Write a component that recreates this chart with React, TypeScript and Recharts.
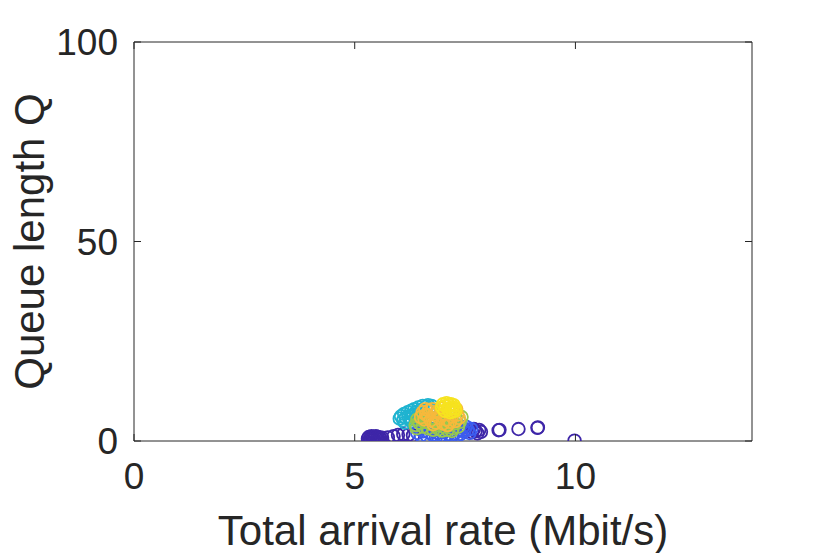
import { ScatterChart, Scatter, XAxis, YAxis, ReferenceLine } from "recharts";

const xTicks = [0, 5, 10];
const yTicks = [0, 50, 100];

// [rate, queue] pairs, grouped by marker colour
const darkBlue = [
  [5.3, 0.6], [5.32, 1.0], [5.34, 0.4], [5.36, 0.8], [5.38, 1.2], [5.4, 0.6],
  [5.42, 1.0], [5.44, 0.5], [5.46, 0.9], [5.48, 1.2], [5.5, 0.7], [5.52, 1.0],
  [5.54, 0.5], [5.56, 0.9], [5.58, 0.6], [5.62, 0.8],
  [5.75, 0.9], [5.88, 1.2], [5.98, 1.5], [6.1, 1.7], [6.22, 1.6], [6.32, 1.4],
  [7.66, 2.2], [7.7, 3.0], [7.74, 2.5], [7.78, 1.9], [7.82, 2.8], [7.86, 2.3],
  [8.26, 2.7], [8.28, 2.8], [8.71, 3.0], [9.14, 3.3], [9.15, 3.4], [9.98, 0.1],
];
const cyan = [
  [6.02, 5.6], [6.05, 6.2], [6.1, 5.2], [6.12, 6.8], [6.16, 5.8], [6.2, 7.2],
  [6.22, 6.2], [6.26, 5.4], [6.28, 7.6], [6.32, 6.6], [6.35, 8.0], [6.38, 5.8],
  [6.4, 7.2], [6.44, 8.4], [6.46, 6.4], [6.5, 7.8], [6.54, 8.8], [6.58, 7.0],
  [6.62, 8.6], [6.66, 9.0], [6.7, 8.2], [6.74, 8.8], [6.3, 4.8], [6.14, 4.6],
  [6.48, 5.0],
];
const blue = [
  [6.42, 2.0], [6.46, 3.0], [6.5, 1.4], [6.55, 2.4], [6.6, 3.4], [6.64, 1.2],
  [6.68, 2.2], [6.72, 3.0], [6.76, 1.6], [6.8, 2.6], [6.84, 1.0], [6.88, 2.0],
  [6.92, 3.2], [6.96, 1.4], [7.0, 2.4], [7.04, 1.0], [7.08, 3.0], [7.12, 1.8],
  [7.16, 2.6], [7.2, 1.2], [7.24, 3.2], [7.28, 2.0], [7.32, 1.4], [7.36, 2.8],
  [7.4, 1.8], [7.44, 3.4], [7.48, 2.4], [7.52, 3.6], [7.56, 2.8], [7.6, 2.0],
  [7.64, 3.0], [6.9, 0.8], [7.3, 0.9],
];
const green = [
  [6.38, 4.0], [6.4, 3.2], [6.42, 5.4], [6.46, 4.6], [6.5, 5.6], [6.54, 3.6],
  [6.58, 4.8], [6.62, 6.0], [6.66, 3.2], [6.7, 4.4], [6.74, 5.4], [6.78, 2.8],
  [6.82, 3.8], [6.86, 5.0], [6.9, 3.0], [6.94, 4.2], [6.98, 2.6], [7.02, 3.6],
  [7.06, 4.8], [7.1, 2.8], [7.14, 4.0], [7.18, 5.2], [7.22, 3.2], [7.26, 4.4],
  [7.3, 5.6], [7.34, 3.6], [7.38, 4.8], [7.42, 6.0], [7.2, 2.5],
];
const orange = [
  [6.5, 6.0], [6.54, 7.2], [6.58, 5.4], [6.6, 8.0], [6.62, 6.6],
  [6.66, 6.4], [6.68, 7.6], [6.72, 5.2], [6.76, 8.0], [6.8, 6.6], [6.84, 4.6],
  [6.88, 7.4], [6.92, 5.8], [6.96, 8.2], [7.0, 4.4], [7.04, 6.8], [7.08, 5.4],
  [7.12, 7.6], [7.16, 4.8], [7.2, 6.2], [7.24, 7.8], [7.28, 5.0], [7.32, 6.6],
  [7.36, 5.8], [7.3, 8.0], [6.78, 4.2], [7.1, 4.0],
];
const yellow = [
  [6.98, 8.4], [7.0, 9.2], [7.04, 7.6], [7.06, 8.8], [7.08, 9.5], [7.12, 8.0],
  [7.14, 9.0], [7.16, 7.2], [7.18, 9.2], [7.2, 8.2], [7.22, 7.4], [7.24, 9.0],
  [7.27, 8.2], [7.28, 7.6],
];

const series = [
  { name: "s1", data: darkBlue, color: "#3e26a8" },
  { name: "s2", data: cyan, color: "#1fb3d0" },
  { name: "s3", data: blue, color: "#3c5cee" },
  { name: "s4", data: green, color: "#98c94e" },
  { name: "s5", data: orange, color: "#f6b93c" },
  { name: "s6", data: yellow, color: "#f6e31f" },
];

const font = '"Liberation Sans", Arial, Helvetica, sans-serif';
const ink = "#262626";
const W = 830;
const H = 553;
const M = { top: 42, right: 78, bottom: 112, left: 134 };
const TICK = 7;

const ring = (color: string) => (props: any) => (
  <circle cx={props.cx} cy={props.cy} r={6.3} fill="none" stroke={color} strokeWidth={1.8} />
);

const XTick = (props: any) => {
  const { x, y, payload } = props;
  const bottom = H - M.bottom;
  return (
    <g>
      <line x1={x} x2={x} y1={bottom} y2={bottom - TICK} stroke={ink} />
      <line x1={x} x2={x} y1={M.top} y2={M.top + TICK} stroke={ink} />
      <text x={x} y={y} dy="0.71em" textAnchor="middle" fontSize={37} fill={ink} fontFamily={font}>
        {payload.value}
      </text>
    </g>
  );
};

const YTick = (props: any) => {
  const { x, y, payload } = props;
  const right = W - M.right;
  return (
    <g>
      <line x1={M.left} x2={M.left + TICK} y1={y} y2={y} stroke={ink} />
      <line x1={right} x2={right - TICK} y1={y} y2={y} stroke={ink} />
      <text x={x} y={y} dy="0.355em" textAnchor="end" fontSize={37} fill={ink} fontFamily={font}>
        {payload.value}
      </text>
    </g>
  );
};

export default function App() {
  return (
    <div style={{ position: "absolute", left: 0, top: 0, background: "#fff" }}>
      <ScatterChart width={W} height={H} margin={{ top: M.top, right: M.right, bottom: 0, left: 0 }}>
        <XAxis
          type="number"
          dataKey="x"
          domain={[0, 14]}
          ticks={xTicks}
          allowDataOverflow
          height={M.bottom}
          stroke={ink}
          tickLine={false}
          tickSize={0}
          tickMargin={22}
          tick={<XTick />}
          label={{
            value: "Total arrival rate (Mbit/s)",
            position: "insideBottom",
            offset: 8,
            fontSize: 42,
            fill: ink,
            fontFamily: font,
          }}
        />
        <YAxis
          type="number"
          dataKey="y"
          domain={[0, 100]}
          ticks={yTicks}
          allowDataOverflow
          width={M.left}
          stroke={ink}
          tickLine={false}
          tickSize={0}
          tickMargin={16}
          tick={<YTick />}
          label={{
            content: (p: any) => {
              const vb = p.viewBox;
              const cy = vb.y + vb.height / 2;
              return (
                <text
                  x={44}
                  y={cy}
                  transform={`rotate(-90 44 ${cy})`}
                  textAnchor="middle"
                  fontSize={42}
                  fill={ink}
                  fontFamily={font}
                >
                  Queue length Q
                </text>
              );
            },
          }}
        />
        <ReferenceLine y={100} stroke={ink} />
        <ReferenceLine x={14} stroke={ink} />
        {series.map((s) => (
          <Scatter
            key={s.name}
            name={s.name}
            data={s.data.map(([x, y]) => ({ x, y }))}
            shape={ring(s.color)}
            isAnimationActive={false}
          />
        ))}
      </ScatterChart>
    </div>
  );
}
